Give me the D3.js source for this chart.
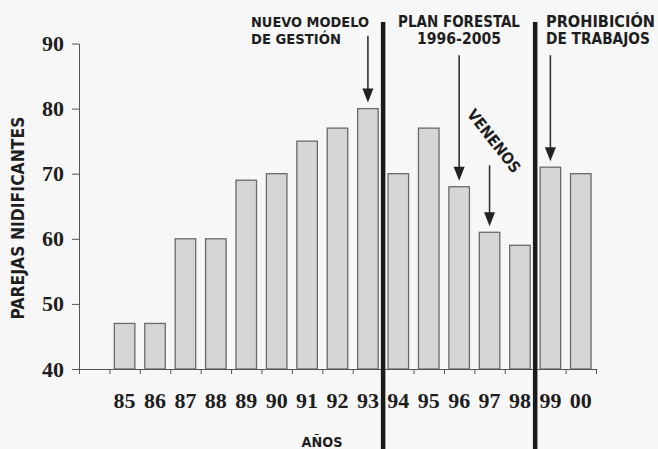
<!DOCTYPE html>
<html>
<head>
<meta charset="utf-8">
<script src="https://cdn.jsdelivr.net/npm/d3@7"></script>
<style>
  html, body { margin: 0; padding: 0; background: #f7f7f7; }
  svg { display: block; }
</style>
</head>
<body>
<svg id="chart" width="658" height="449"></svg>
<script>
// ---- data ----
const years = ["85","86","87","88","89","90","91","92","93","94","95","96","97","98","99","00"];
const pairs = [47, 47, 60, 60, 69, 70, 75, 77, 80, 70, 77, 68, 61, 59, 71, 70];
const yTicks = [40, 50, 60, 70, 80, 90];
const yTitle = "PAREJAS NIDIFICANTES";
const xTitle = "AÑOS";
// period dividers: placed after these years
const dividersAfter = ["93", "98"];
// annotations: arrow pointing at a year's bar
const annotYears = ["93", "96", "97", "99"];
const annotLines = [["NUEVO MODELO", "DE GESTIÓN"], ["PLAN FORESTAL", "1996-2005"], ["VENENOS"], ["PROHIBICIÓN", "DE TRABAJOS"]];
const arrowStartValues = [91.2, 88.2, 71.3, 88.2];

// ---- layout ----
const svg = d3.select("#chart");
const mLeft = 79, mRight = 596, mTop = 43.5, mBottom = 369;
const slots = [""].concat(years);   // first slot is empty
const x = d3.scaleBand().domain(slots).range([mLeft, mRight]).paddingInner(0.325).paddingOuter(0.1625);
const step = x.step();
const xb = d3.scaleLinear().domain([0, slots.length]).range([mLeft, mRight]);
const y = d3.scaleLinear().domain([40, 90]).range([mBottom, mTop]);
const data = years.map((yr, i) => ({ yr, v: pairs[i] }));
const serif = "'Liberation Serif','Times New Roman',serif";
const sans = "'DejaVu Sans Condensed','DejaVu Sans',Verdana,sans-serif";
const ink = "#1e1e1e";

// fit a text element to a target width by adjusting its font size
function fitWidth(sel, target) {
  const n = sel.node();
  const w = n.getComputedTextLength();
  const fs = parseFloat(sel.attr("font-size"));
  if (w > 0) sel.attr("font-size", (fs * target / w).toFixed(2));
}

// bars
svg.append("g").selectAll("rect").data(data).join("rect")
  .attr("x", d => x(d.yr))
  .attr("y", d => y(d.v))
  .attr("width", x.bandwidth())
  .attr("height", d => y(40) - y(d.v))
  .attr("fill", "#d6d6d6")
  .attr("stroke", "#6a6a6a")
  .attr("stroke-width", 1.3);

// y axis
const yAxis = svg.append("g").attr("transform", `translate(${mLeft},0)`)
  .call(d3.axisLeft(y).tickValues(yTicks).tickSize(7).tickPadding(8).tickSizeOuter(0));
yAxis.select(".domain").attr("stroke", "#555");
yAxis.selectAll(".tick line").attr("stroke", "#555");
yAxis.selectAll("text").attr("font-family", serif).attr("font-weight", "bold")
  .attr("font-size", 22).attr("fill", ink);

// x axis (boundary ticks)
const xAxisTicks = svg.append("g").attr("transform", `translate(0,${mBottom})`)
  .call(d3.axisBottom(xb).tickValues(d3.range(0, slots.length + 1)).tickSize(5).tickFormat("").tickSizeOuter(0));
xAxisTicks.select(".domain").attr("stroke", "#555");
xAxisTicks.selectAll(".tick line").attr("stroke", "#555");

// x labels
const xAxis = svg.append("g").attr("transform", `translate(0,${mBottom})`)
  .call(d3.axisBottom(x).tickValues(years).tickSize(0).tickPadding(23));
xAxis.select(".domain").remove();
xAxis.selectAll("text").attr("font-family", serif).attr("font-weight", "bold")
  .attr("font-size", 22).attr("fill", ink);

// axis titles
const yt = svg.append("text")
  .attr("transform", `translate(24,218) rotate(-90)`)
  .attr("text-anchor", "middle")
  .attr("font-family", sans).attr("font-weight", "bold").attr("font-size", 15)
  .attr("fill", ink).text(yTitle);
fitWidth(yt, 203);
const xt = svg.append("text")
  .attr("x", 322).attr("y", 447)
  .attr("text-anchor", "middle")
  .attr("font-family", sans).attr("font-weight", "bold").attr("font-size", 14)
  .attr("fill", ink).text(xTitle);
fitWidth(xt, 41);

// dividers
dividersAfter.forEach(yr => {
  const xd = x(yr) + x.bandwidth() + step * 0.1625;
  svg.append("line")
    .attr("x1", xd).attr("x2", xd).attr("y1", 22).attr("y2", 449)
    .attr("stroke", "#1a1a1a").attr("stroke-width", 4.5);
});

// annotations
function arrow(cx, y0, y1) {
  const hl = 14, hw = 5.5;
  svg.append("line").attr("x1", cx).attr("x2", cx).attr("y1", y0).attr("y2", y1 - hl + 1)
    .attr("stroke", "#333").attr("stroke-width", 1.6);
  svg.append("path")
    .attr("d", `M${cx - hw},${y1 - hl} L${cx + hw},${y1 - hl} L${cx},${y1} Z`)
    .attr("fill", "#222");
}
annotYears.forEach((yr, i) => {
  const cx = x(yr) + x.bandwidth() / 2;
  const v = pairs[years.indexOf(yr)];
  arrow(cx, y(arrowStartValues[i]), y(v) - 6);
});

function label(lines, widths, xp, yp, anchor) {
  lines.forEach((s, k) => {
    const t = svg.append("text").attr("font-family", sans).attr("font-weight", "bold")
      .attr("font-size", 14).attr("fill", ink).attr("text-anchor", anchor)
      .attr("x", xp).attr("y", yp + k * 17).text(s);
    fitWidth(t, widths[k]);
  });
}
label(annotLines[0], [118, 90], 251, 26.5, "start");
label(annotLines[1], [122, 84], 459, 26.5, "middle");
label(annotLines[3], [109, 104], 546, 26.5, "start");
const vt = svg.append("text")
  .attr("transform", "translate(494,141) rotate(52)")
  .attr("text-anchor", "middle").attr("dominant-baseline", "central")
  .attr("font-family", sans).attr("font-weight", "bold").attr("font-size", 14)
  .attr("fill", ink).text(annotLines[2][0]);
fitWidth(vt, 76);
</script>
</body>
</html>
